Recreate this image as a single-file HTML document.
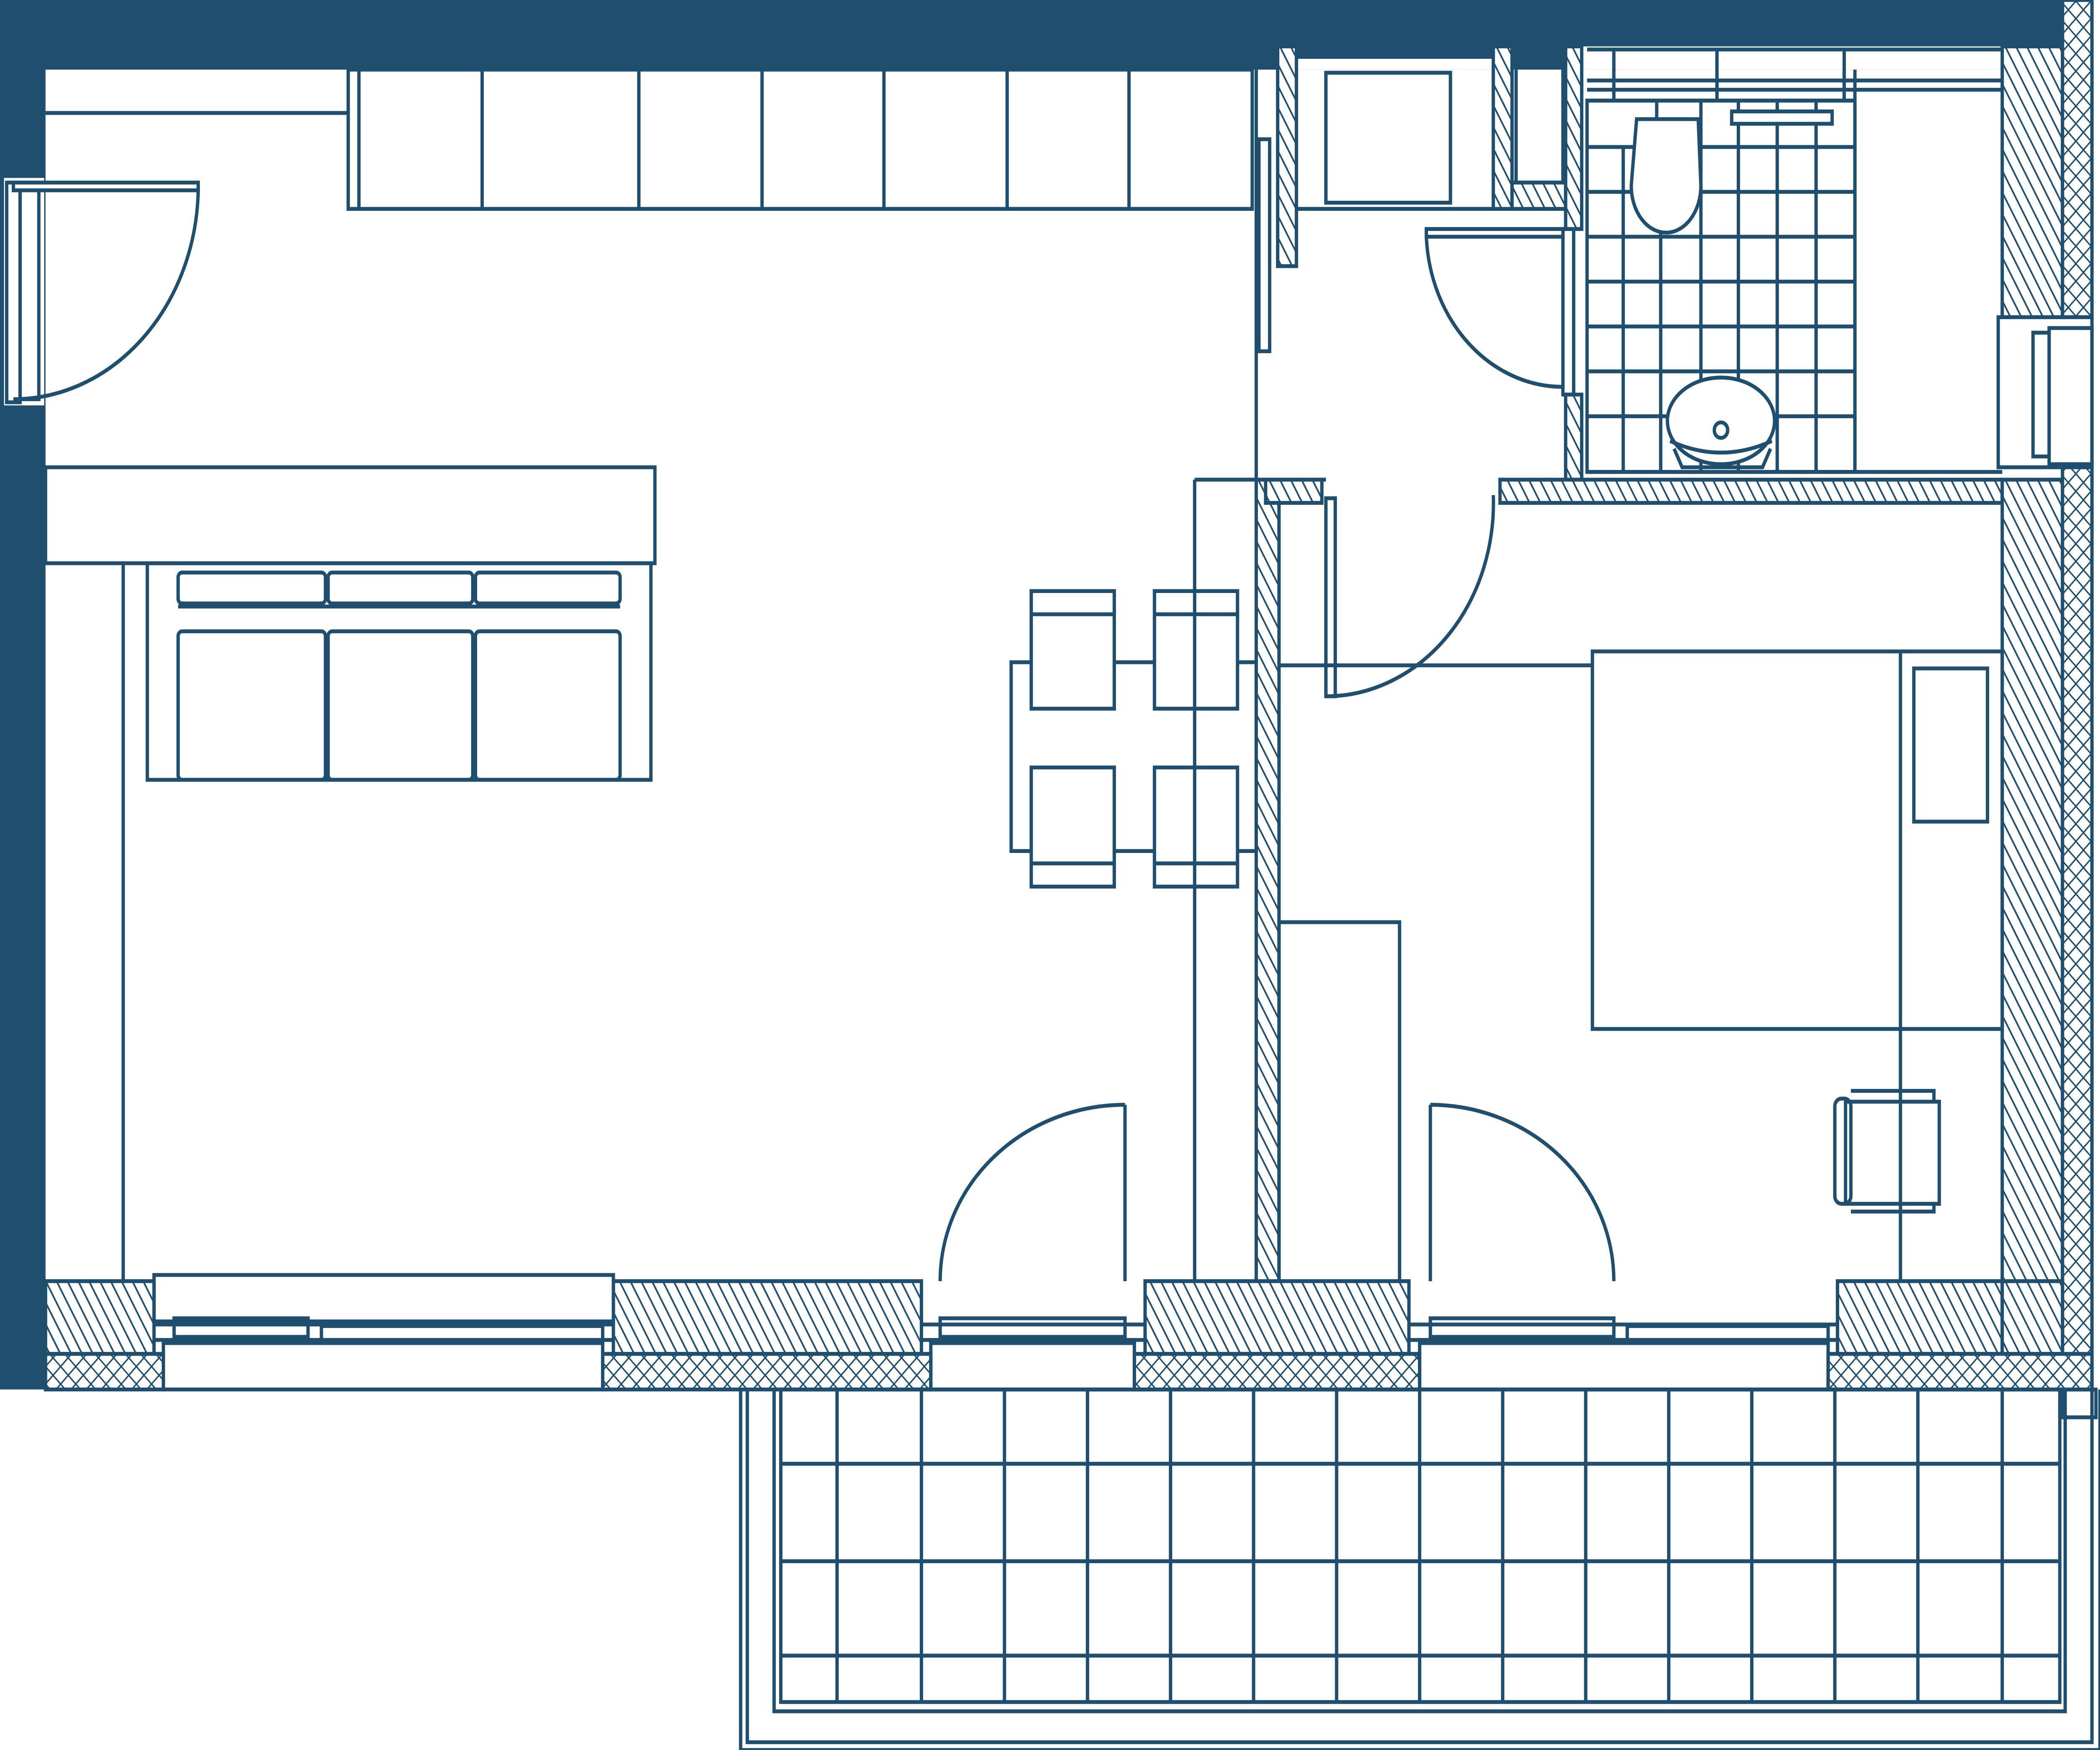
<!DOCTYPE html>
<html><head><meta charset="utf-8"><style>
html,body{margin:0;padding:0;background:#fff;overflow:hidden;width:100vw;height:100vh}
svg{display:block;position:absolute;left:0;top:0;width:100vw;height:100vh}
</style></head><body>
<svg viewBox="0 0 1568 1131" preserveAspectRatio="none" xmlns="http://www.w3.org/2000/svg">
<defs>
<pattern id="h" width="7" height="7" patternUnits="userSpaceOnUse" patternTransform="rotate(-30)">
<rect width="7" height="7" fill="#fff"/><line x1="0" y1="0" x2="0" y2="7" stroke="#1f4e6e" stroke-width="2.4"/></pattern>
<pattern id="x" width="8" height="8" patternUnits="userSpaceOnUse" patternTransform="rotate(45)">
<rect width="8" height="8" fill="#fff"/><line x1="0" y1="0" x2="0" y2="8" stroke="#1f4e6e" stroke-width="2"/><line x1="0" y1="0" x2="8" y2="0" stroke="#1f4e6e" stroke-width="2"/></pattern>
</defs>
<g fill="none" stroke="#1f4e6e" stroke-width="2.5">
<!-- outer solid walls -->
<rect x="0" y="0" width="1540" height="45" fill="#1f4e6e" stroke="none"/>
<rect x="0" y="0" width="34" height="898" fill="#1f4e6e" stroke="none"/>
<rect x="1180" y="30" width="315" height="15" fill="#fff" stroke="none"/>
<rect x="968" y="38" width="147" height="7" fill="#fff" stroke="none"/>
<path d="M1185,32H1495M1205,32V65M1282,32V65M1377,32V65M1185,52H1495M1185,58H1495M1185,65H1385"/>
<!-- left door opening -->
<rect x="3" y="115" width="30" height="147" fill="#fff" stroke="none"/>
<rect x="5" y="118" width="10" height="142"/><rect x="15" y="120" width="14" height="138"/>
<rect x="10" y="118" width="138" height="5" fill="#fff"/>
<path d="M148,123 A138,138 0 0 1 10,258"/>
<!-- kitchen -->
<line x1="34" y1="73" x2="260" y2="73"/>
<rect x="260" y="45" width="675" height="90"/>
<path d="M268,45V135M360,45V135M477,45V135M569,45V135M660,45V135M752,45V135M843,45V135"/>
<!-- shelf & sofa -->
<rect x="34" y="302" width="455" height="62"/>
<path d="M92,364V828"/>
<rect x="110" y="364" width="376" height="140"/>
<rect x="133" y="370" width="110" height="20" rx="3"/><rect x="245" y="370" width="108" height="20" rx="3"/><rect x="355" y="370" width="108" height="20" rx="3"/>
<path d="M133,392H463"/>
<rect x="133" y="408" width="110" height="96" rx="3"/><rect x="245" y="408" width="108" height="96" rx="3"/><rect x="355" y="408" width="108" height="96" rx="3"/>
<!-- dining -->
<rect x="755" y="428" width="183" height="122"/>
<rect x="770" y="382" width="62" height="76" fill="#fff"/><path d="M770,397H832"/>
<rect x="862" y="382" width="62" height="76" fill="#fff"/><path d="M862,397H924"/>
<rect x="770" y="496" width="62" height="77" fill="#fff"/><path d="M770,558H832"/>
<rect x="862" y="496" width="62" height="77" fill="#fff"/><path d="M862,558H924"/>
<path d="M892,310V828M892,310H990M938,45V310"/>
<!-- partitions -->
<rect x="938" y="310" width="17" height="518" fill="url(#h)"/>
<rect x="954" y="30" width="14" height="142" fill="url(#h)"/>
<rect x="940" y="90" width="8" height="137"/>
<rect x="990" y="47" width="93" height="84"/>
<path d="M968,135H1115"/>
<rect x="1115" y="30" width="14" height="105" fill="url(#h)"/>
<rect x="1132" y="30" width="35" height="88"/>
<rect x="1129" y="118" width="40" height="17" fill="url(#h)"/>
<rect x="1169" y="30" width="12" height="118" fill="url(#h)"/>
<rect x="1169" y="255" width="12" height="55" fill="url(#h)"/>
<rect x="1167" y="148" width="8" height="107"/>
<rect x="1120" y="310" width="375" height="15" fill="url(#h)"/>
<rect x="945" y="310" width="42" height="15" fill="url(#h)"/>
<!-- bathroom -->
<path d="M1185,65H1385V305H1185Z"/>
<path d="M1212,95V305M1240,95V305M1270,95V305M1298,95V305M1327,95V305M1356,95V305M1185,95H1385M1185,124H1385M1185,153H1385M1185,182H1385M1185,211H1385M1185,240H1385M1185,269H1385M1237,65V95M1270,65V95M1298,65V95M1327,65V95M1356,65V95"/>
<path d="M1385,45V305M1185,305H1495"/>
<rect x="1293" y="72" width="75" height="8" fill="#fff"/>
<path d="M1222,77H1268L1270,120A24,28 0 0 1 1218,120Z" fill="#fff"/>
<ellipse cx="1285" cy="272" rx="40" ry="28" fill="#fff"/><path d="M1247,285Q1285,300 1323,285M1250,290L1256,302H1316L1322,290"/>
<circle cx="1285" cy="278" r="5"/>
<rect x="1065" y="148" width="102" height="5" fill="#fff"/>
<path d="M1065,153 A102,102 0 0 0 1167,250"/>
<!-- right walls -->
<rect x="1495" y="30" width="45" height="175" fill="url(#h)"/>
<rect x="1540" y="0" width="22" height="205" fill="url(#x)"/>
<rect x="1492" y="205" width="70" height="97" fill="#fff"/>
<rect x="1518" y="215" width="12" height="80"/><rect x="1530" y="212" width="32" height="88"/>
<rect x="1495" y="310" width="45" height="518" fill="url(#h)"/>
<rect x="1540" y="302" width="22" height="596" fill="url(#x)"/>
<!-- bedroom -->
<rect x="990" y="322" width="7" height="128"/>
<path d="M1115,320 A125,125 0 0 1 990,450"/>
<path d="M955,430H1189"/>
<rect x="1189" y="421" width="306" height="244"/>
<path d="M1419,421V828H1495"/>
<rect x="1429" y="432" width="55" height="99"/>
<rect x="955" y="596" width="90" height="232"/>
<rect x="1378" y="712" width="70" height="66"/><rect x="1370" y="710" width="12" height="68" rx="5"/>
<path d="M1382,705H1444V712M1382,783H1444V778"/>
<!-- bottom walls -->
<rect x="34" y="828" width="81" height="47" fill="url(#h)"/>
<rect x="458" y="828" width="230" height="47" fill="url(#h)"/>
<rect x="855" y="828" width="197" height="47" fill="url(#h)"/>
<rect x="1372" y="828" width="123" height="47" fill="url(#h)"/>
<rect x="1495" y="828" width="45" height="47" fill="url(#h)"/>
<rect x="34" y="875" width="88" height="23" fill="url(#x)"/>
<rect x="450" y="875" width="245" height="23" fill="url(#x)"/>
<rect x="847" y="875" width="213" height="23" fill="url(#x)"/>
<rect x="1365" y="875" width="197" height="23" fill="url(#x)"/>
<!-- windows/doors in bottom wall -->
<rect x="115" y="824" width="343" height="30"/>
<rect x="122" y="868" width="328" height="30"/>
<path d="M115,856H458M115,866H458M688,856H855M688,866H855M1052,856H1372M1052,866H1372"/>
<rect x="130" y="852" width="100" height="12"/><rect x="240" y="857" width="210" height="10"/>
<rect x="702" y="852" width="138" height="12"/><rect x="695" y="868" width="152" height="30"/>
<rect x="1068" y="852" width="137" height="12"/><rect x="1215" y="857" width="150" height="10"/>
<rect x="1060" y="868" width="305" height="30"/>
<line x1="840" y1="714" x2="840" y2="828"/><path d="M840,714 A138,114 0 0 0 702,828"/>
<line x1="1068" y1="714" x2="1068" y2="828"/><path d="M1068,714 A137,114 0 0 1 1205,828"/>
<!-- balcony -->
<path d="M553,898V1131H1568V898"/>
<path d="M558,898V1126H1562V898"/>
<rect x="578" y="898" width="964" height="208"/>
<rect x="583" y="898" width="955" height="202"/>
<path d="M625,898V1100M688,898V1100M750,898V1100M812,898V1100M874,898V1100M936,898V1100M998,898V1100M1060,898V1100M1122,898V1100M1184,898V1100M1246,898V1100M1308,898V1100M1370,898V1100M1432,898V1100M1495,898V1100"/>
<path d="M583,946H1538M583,1009H1538M583,1070H1538"/>
<rect x="1540" y="898" width="25" height="18"/>
</g>
</svg>
</body></html>
